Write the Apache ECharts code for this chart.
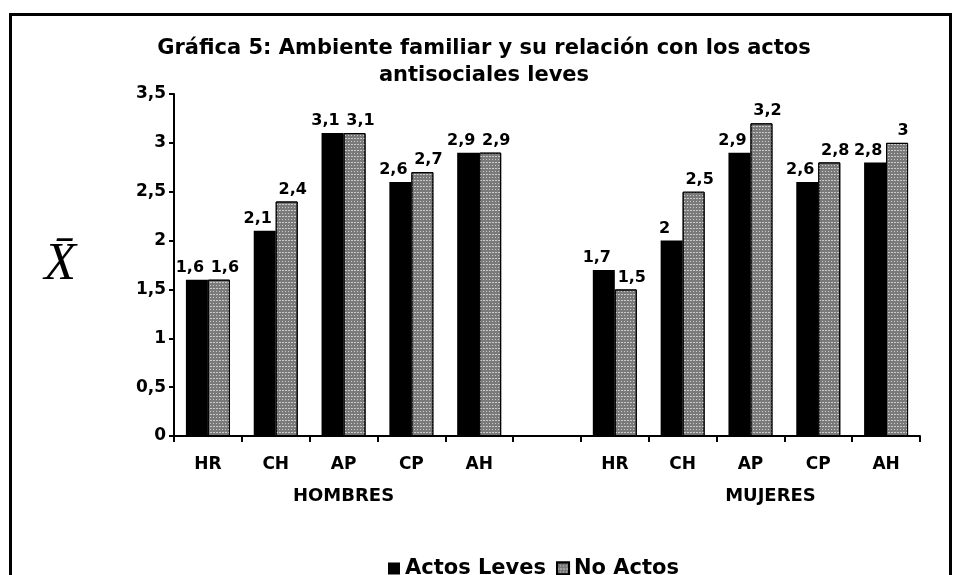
<!DOCTYPE html>
<html>
<head>
<meta charset="utf-8">
<script src="https://cdn.jsdelivr.net/npm/echarts@6/dist/echarts.min.js"></script>
<style>html,body{margin:0;padding:0;background:#fff}#c{width:953px;height:575px}</style>
</head>
<body>
<div id="c"></div>
<script>
var categories = ['HR','CH','AP','CP','AH','','HR','CH','AP','CP','AH'];
var groupLabels = ['', '', 'HOMBRES', '', '', '', '', '', 'MUJERES', '', ''];
var actosLeves = [1.6, 2.1, 3.1, 2.6, 2.9, null, 1.7, 2.0, 2.9, 2.6, 2.8];
var noActos    = [1.6, 2.4, 3.1, 2.7, 2.9, null, 1.5, 2.5, 3.2, 2.8, 3.0];
var seriesNames = ['Actos Leves', 'No Actos'];
var titleText = 'Gráfica 5: Ambiente familiar y su relación con los actos\nantisociales leves';

var FONT = 'DejaVu Sans';
function comma(v){ return String(v).replace('.', ','); }

var chart = echarts.init(document.getElementById('c'));
chart.setOption({
  backgroundColor: '#fff',
  animation: false,
  title: {
    text: titleText,
    left: 479, top: 30, textAlign: 'center',
    textStyle: {fontFamily: FONT, fontWeight: 'bold', fontSize: 21, color: '#000', lineHeight: 27}
  },
  legend: {
    top: 553, left: 383,
    icon: 'rect',
    itemWidth: 12, itemHeight: 12, itemGap: 10,
    textStyle: {fontFamily: FONT, fontWeight: 'bold', fontSize: 21, color: '#000'},
    data: seriesNames
  },
  grid: {left: 174, right: 33, top: 94, bottom: 139, containLabel: false},
  xAxis: [{
    type: 'category', data: categories, boundaryGap: true,
    axisLine: {lineStyle: {color: '#000', width: 2}},
    axisTick: {show: true, length: 6, lineStyle: {color: '#000', width: 2}},
    axisLabel: {fontFamily: FONT, fontWeight: 'bold', fontSize: 17, color: '#000', margin: 20, interval: 0}
  }, {
    type: 'category', data: groupLabels, position: 'bottom', boundaryGap: true,
    axisLine: {show: false}, axisTick: {show: false},
    axisLabel: {
      fontFamily: FONT, fontWeight: 'bold', fontSize: 18, color: '#000', margin: 51, interval: 0,
      formatter: function(v){ return v === 'MUJERES' ? '{m|' + v + '}' : v; },
      rich: {m: {fontFamily: FONT, fontWeight: 'bold', fontSize: 18, color: '#000', padding: [0, 0, 0, 40]}}
    }
  }],
  yAxis: {
    type: 'value', min: 0, max: 3.5, interval: 0.5,
    name: 'X\u0304', nameLocation: 'middle', nameGap: 98, nameRotate: 0,
    nameTextStyle: {fontFamily: 'Liberation Serif', fontStyle: 'italic', fontSize: 52, color: '#000', padding: [0, 0, 70, 0]},
    axisLine: {show: true, lineStyle: {color: '#000', width: 2}},
    axisTick: {show: true, length: 5, lineStyle: {color: '#000', width: 2}},
    splitLine: {show: false},
    axisLabel: {fontFamily: FONT, fontWeight: 'bold', fontSize: 17, color: '#000', margin: 8, formatter: comma}
  },
  series: [{
    name: seriesNames[0], type: 'bar', data: actosLeves,
    barWidth: 22, barGap: '0%',
    itemStyle: {color: '#000'},
    label: {show: true, position: 'top', distance: 4, offset: [-7, 0], fontFamily: FONT, fontWeight: 'bold', fontSize: 16, color: '#000', formatter: function(p){ return comma(p.value); }}
  }, {
    name: seriesNames[1], type: 'bar', data: noActos,
    barWidth: 22,
    itemStyle: {
      color: '#7a7a7a', borderColor: '#000', borderWidth: 1,
      decal: {symbol: 'rect', symbolSize: 1, dashArrayX: [[1, 2], [2, 1]], dashArrayY: [1, 2], color: 'rgba(255,255,255,0.6)', rotation: 0}
    },
    label: {show: true, position: 'top', distance: 4, offset: [6, 0], fontFamily: FONT, fontWeight: 'bold', fontSize: 16, color: '#000', formatter: function(p){ return comma(p.value); }}
  }],
  graphic: [{
    type: 'rect', left: 8, top: 12, silent: true,
    shape: {width: 940, height: 620},
    style: {fill: 'none', stroke: '#000', lineWidth: 3}
  }]
});
</script>
</body>
</html>
